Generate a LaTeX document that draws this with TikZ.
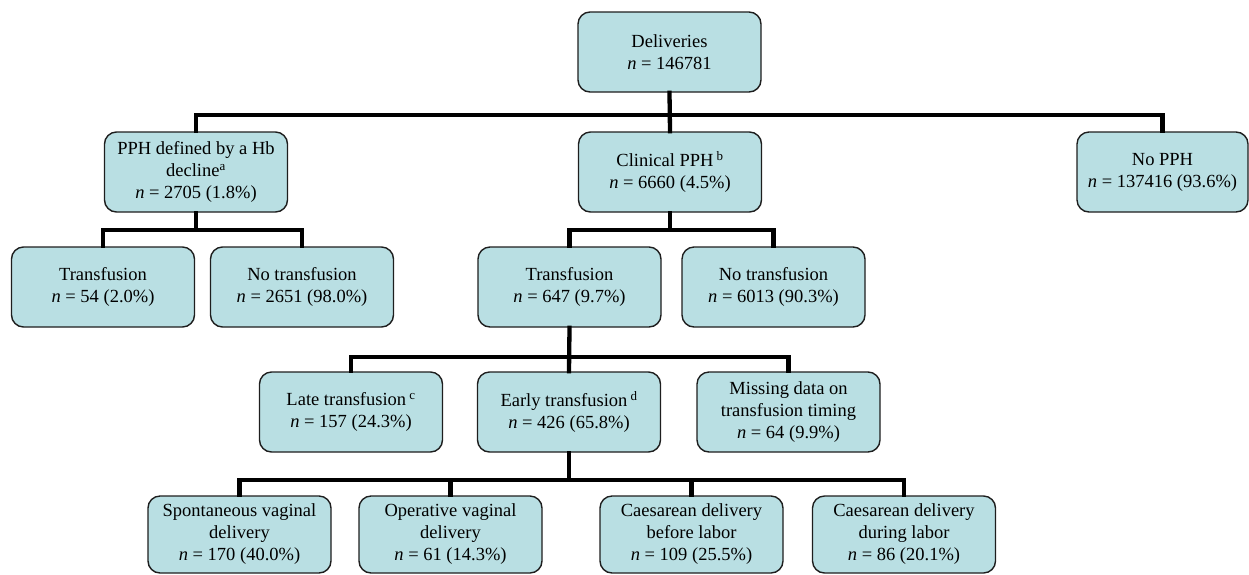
\documentclass[tikz,border=0pt]{standalone}
\usepackage{fontspec}
\setmainfont{Liberation Serif}
\definecolor{boxfill}{RGB}{185,223,227}
\definecolor{boxline}{RGB}{30,30,30}
\begin{document}
\begin{tikzpicture}[x=1pt,y=-1pt,
  box/.style={draw=boxline, line width=1.4pt, fill=boxfill, rounded corners=12pt,
    minimum width=183pt, minimum height=80pt, align=center, inner sep=2pt,
    font=\fontsize{18.5}{22}\selectfont},
  conn/.style={line width=4.3pt, black, line join=miter, line cap=rect}]
\useasboundingbox (0,0) rectangle (1249,574);
\newcommand{\nn}{\textit{n}}
% level 1
\node[box] (del) at (669.5,52) {Deliveries\\ \nn{} = 146781};
% level 2
\node[box] (hb) at (196,172) {PPH defined by a Hb\\ decline\textsuperscript{a}\\ \nn{} = 2705 (1.8\%)};
\node[box] (clin) at (670,172) {Clinical PPH\,\textsuperscript{b}\\ \nn{} = 6660 (4.5\%)};
\node[box, minimum width=171pt] (nopph) at (1162.5,172) {No PPH\\ \nn{} = 137416 (93.6\%)};
% level 3
\node[box] (t1) at (103,287) {Transfusion\\ \nn{} = 54 (2.0\%)};
\node[box] (nt1) at (302,287) {No transfusion\\ \nn{} = 2651 (98.0\%)};
\node[box] (t2) at (569.5,287) {Transfusion\\ \nn{} = 647 (9.7\%)};
\node[box] (nt2) at (773.5,287) {No transfusion\\ \nn{} = 6013 (90.3\%)};
% level 4
\node[box] (late) at (351,412) {Late transfusion\,\textsuperscript{c}\\ \nn{} = 157 (24.3\%)};
\node[box] (early) at (569,412) {Early transfusion\,\textsuperscript{d}\\ \nn{} = 426 (65.8\%)};
\node[box] (miss) at (788.5,412) {Missing data on\\ transfusion timing\\ \nn{} = 64 (9.9\%)};
% level 5
\node[box, minimum height=77pt] (sp) at (239.5,534.5) {Spontaneous vaginal\\ delivery\\ \nn{} = 170 (40.0\%)};
\node[box, minimum height=77pt] (op) at (450.5,534.5) {Operative vaginal\\ delivery\\ \nn{} = 61 (14.3\%)};
\node[box, minimum height=77pt] (cb) at (691.5,534.5) {Caesarean delivery\\ before labor\\ \nn{} = 109 (25.5\%)};
\node[box, minimum height=77pt] (cd) at (904,534.5) {Caesarean delivery\\ during labor\\ \nn{} = 86 (20.1\%)};
% bus levels
\coordinate (b1) at (0,115);
\coordinate (b2) at (0,230);
\coordinate (b3) at (0,357);
\coordinate (b4) at (0,480);
% connectors
\draw[conn] (del.south) -- (clin.north);
\draw[conn] (del.south |- b1) -| (hb.north);
\draw[conn] (del.south |- b1) -| (nopph.north);
\draw[conn] (hb.south) -- (hb.south |- b2);
\draw[conn] (t1.north) |- (hb.south |- b2) -| (nt1.north);
\draw[conn] (clin.south) -- (clin.south |- b2);
\draw[conn] (t2.north) |- (clin.south |- b2) -| (nt2.north);
\draw[conn] (t2.south) -- (early.north);
\draw[conn] (t2.south |- b3) -| (late.north);
\draw[conn] (t2.south |- b3) -| (miss.north);
\draw[conn] (early.south) -- (early.south |- b4);
\draw[conn] (sp.north) |- (early.south |- b4) -| (cd.north);
\draw[conn] (op.north) -- (op.north |- b4);
\draw[conn] (cb.north) -- (cb.north |- b4);
\end{tikzpicture}
\end{document}
